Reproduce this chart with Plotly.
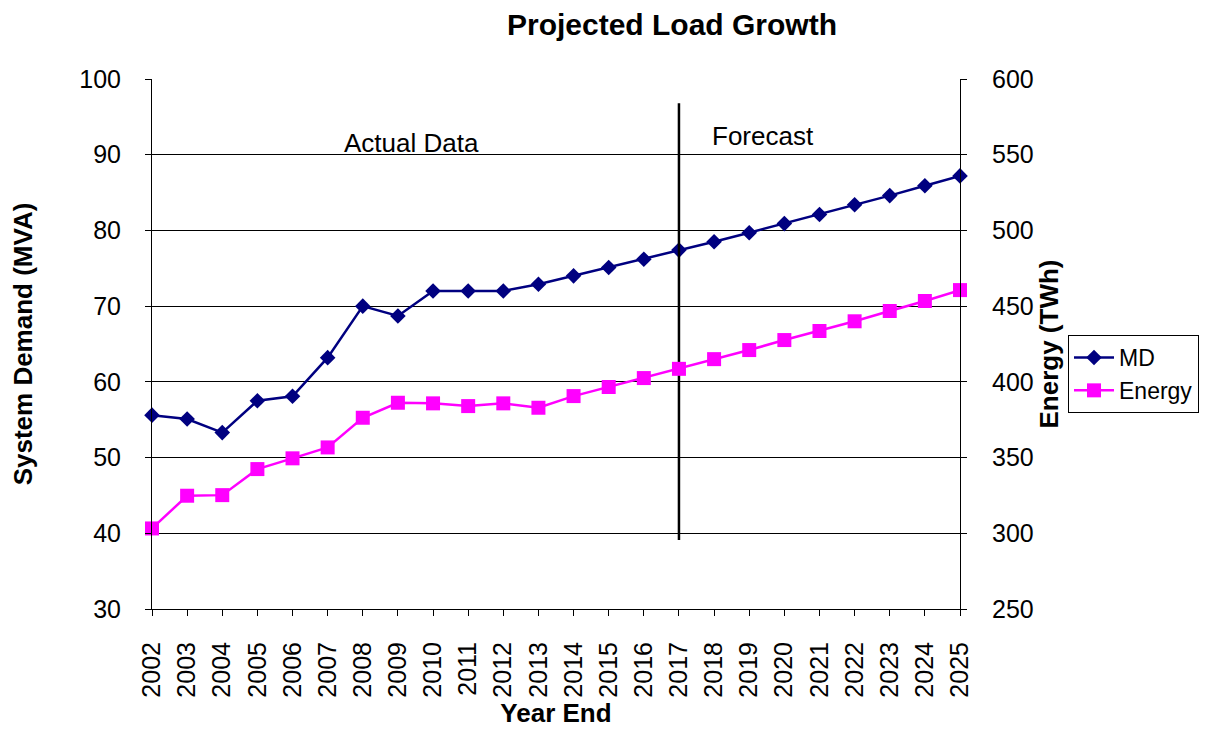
import plotly.graph_objects as go

years = list(range(2002, 2026))
md = [55.6, 55.1, 53.3, 57.5, 58.1, 63.2, 70.0, 68.7, 72.0, 72.0, 72.0, 72.9,
      74.0, 75.1, 76.2, 77.4, 78.5, 79.7, 80.9, 82.1, 83.4, 84.6, 85.9, 87.2]
energy = [303.2, 324.8, 325.2, 342.4, 349.5, 356.7, 376.3, 386.2, 385.8, 384.0, 385.8, 382.9,
          390.6, 396.6, 402.5, 408.6, 415.0, 421.0, 427.6, 433.6, 440.0, 446.8, 453.4, 460.6]
forecast_year = 2017
divider_y = [39.1, 96.8]

FONT = "Liberation Sans, Arial, sans-serif"
W, H = 1220, 721

fig = go.Figure()
fig.add_trace(go.Scatter(x=years, y=md, name="MD", mode="lines+markers",
                         line=dict(color="#000080", width=2.5),
                         marker=dict(symbol="diamond", size=12, color="#000080"),
                         cliponaxis=False))
fig.add_trace(go.Scatter(x=years, y=energy, name="Energy", mode="lines+markers",
                         yaxis="y2",
                         line=dict(color="#FF00FF", width=2.5),
                         marker=dict(symbol="square", size=14, color="#FF00FF"),
                         cliponaxis=False))
fig.add_trace(go.Scatter(x=[forecast_year, forecast_year], y=divider_y, mode="lines",
                         line=dict(color="black", width=2.5), showlegend=False,
                         hoverinfo="skip"))

fig.update_layout(
    width=W, height=H,
    margin=dict(l=144, r=268, t=71, b=120),
    paper_bgcolor="white", plot_bgcolor="white",
    font=dict(family=FONT, size=25, color="black"),
    title=dict(text="<b>Projected Load Growth</b>", x=664 / W, xanchor="center",
               y=1 - 16 / H, yanchor="middle", font=dict(size=30)),
    xaxis=dict(range=[2002, 2025], dtick=1, tickangle=-90, showgrid=False,
               showline=True, linecolor="black", linewidth=1, automargin=False,
               ticks="outside", ticklen=6, tickcolor="black", ticklabelstandoff=16,
               title=dict(text="<b>Year End</b>", font=dict(size=26), standoff=6)),
    yaxis=dict(range=[30, 100], dtick=10, showgrid=True, gridcolor="black", gridwidth=1,
               showline=True, linecolor="black", linewidth=1, automargin=False,
               ticks="outside", ticklen=6, tickcolor="black", zeroline=False,
               ticklabelstandoff=19,
               title=dict(text="<b>System Demand (MVA)</b>", font=dict(size=26), standoff=44)),
    yaxis2=dict(range=[250, 600], dtick=50, overlaying="y", side="right", showgrid=False,
                showline=True, linecolor="black", linewidth=1, automargin=False,
                ticks="outside", ticklen=6, tickcolor="black", zeroline=False,
                ticklabelstandoff=20,
                title=dict(text="<b>Energy (TWh)</b>", font=dict(size=26), standoff=0)),
    legend=dict(x=(1068 - 152) / 808, y=(609 - 335) / 530, xanchor="left", yanchor="top",
                bordercolor="black", borderwidth=1, bgcolor="white",
                font=dict(size=23), tracegroupgap=0, itemwidth=40),
    showlegend=True,
    annotations=[
        dict(text="Actual Data", x=2009.4, y=91.5, xref="x", yref="y", showarrow=False,
             font=dict(size=26)),
        dict(text="Forecast", x=2019.4, y=92.5, xref="x", yref="y", showarrow=False,
             font=dict(size=26)),
    ],
)

fig.write_html("out.html")
